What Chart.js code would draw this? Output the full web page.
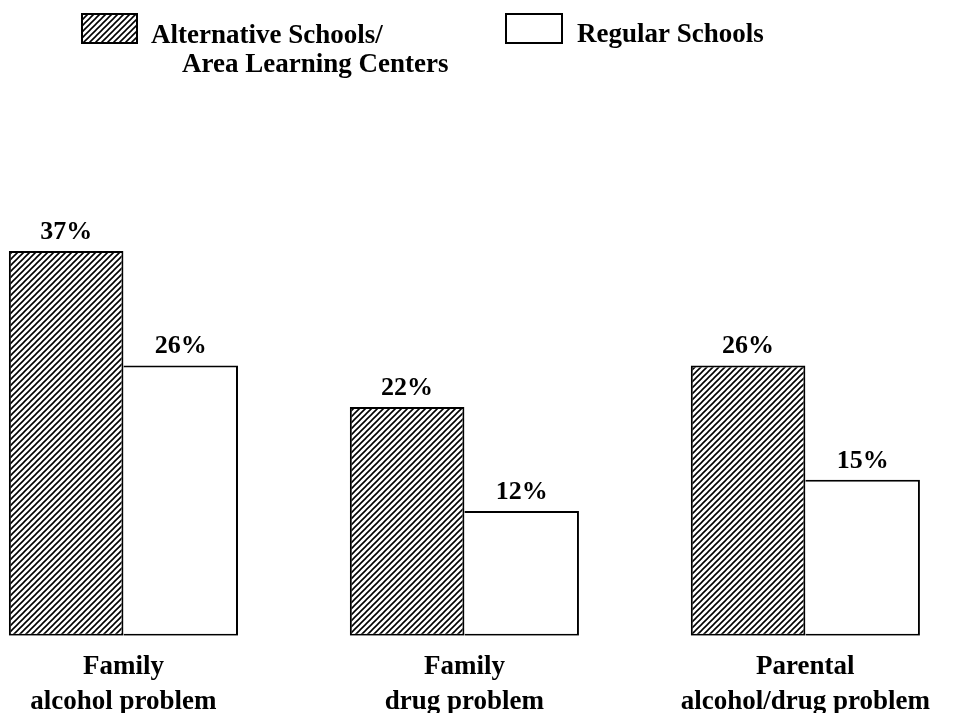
<!DOCTYPE html>
<html>
<head>
<meta charset="utf-8">
<script src="https://cdn.jsdelivr.net/npm/chart.js@4.4.1/dist/chart.umd.min.js"></script>
<style>
    html, body { margin: 0; padding: 0; background: #fff; overflow: hidden; }
    #wrap { width: 953px; height: 713px; }
</style>
</head>
<body>
<div id="wrap"><canvas id="schools"></canvas></div>
<script>
const categories = [['Family', 'alcohol problem'], ['Family', 'drug problem'], ['Parental', 'alcohol/drug problem']];
const alternative = [37, 22, 26];
const regular = [26, 12, 15];
const altLegend = ['Alternative Schools/', 'Area Learning Centers'];
const regLegend = ['Regular Schools'];

const serif = '"Liberation Serif", "Times New Roman", serif';

// diagonal hatch for the alternative schools bars
function hatch() {
    const s = 6;
    const c = document.createElement('canvas');
    c.width = s;
    c.height = s;
    const g = c.getContext('2d');
    g.fillStyle = '#fff';
    g.fillRect(0, 0, s, s);
    g.strokeStyle = '#000';
    g.lineWidth = 1.6;
    g.beginPath();
    g.moveTo(0, s); g.lineTo(s, 0);
    g.moveTo(-1, 1); g.lineTo(1, -1);
    g.moveTo(s - 1, s + 1); g.lineTo(s + 1, s - 1);
    g.stroke();
    return g.createPattern(c, 'repeat');
}
const hatchFill = hatch();

const valueLabels = {
    id: 'valueLabels',
    afterDatasetsDraw(chart) {
        const ctx = chart.ctx;
        ctx.save();
        ctx.font = 'bold 26px ' + serif;
        ctx.fillStyle = '#000';
        ctx.textAlign = 'center';
        ctx.textBaseline = 'alphabetic';
        chart.data.datasets.forEach((ds, d) => {
            chart.getDatasetMeta(d).data.forEach((bar, i) => {
                ctx.fillText(ds.data[i].y + '%', bar.x, bar.y - 12);
            });
        });
        ctx.restore();
    }
};

const boxLegend = {
    id: 'boxLegend',
    afterDraw(chart) {
        const ctx = chart.ctx;
        ctx.save();
        ctx.lineWidth = 2;
        ctx.strokeStyle = '#000';

        ctx.fillStyle = hatchFill;
        ctx.fillRect(82, 14, 55, 29);
        ctx.strokeRect(82, 14, 55, 29);
        ctx.fillStyle = '#fff';
        ctx.fillRect(506, 14, 56, 29);
        ctx.strokeRect(506, 14, 56, 29);

        ctx.fillStyle = '#000';
        ctx.font = 'bold 27px ' + serif;
        ctx.textBaseline = 'alphabetic';
        ctx.fillText(altLegend[0], 151, 43);
        ctx.fillText(altLegend[1], 182, 72);
        ctx.fillText(regLegend[0], 577, 42);
        ctx.restore();
    }
};

new Chart(document.getElementById('schools'), {
    type: 'bar',
    data: {
        datasets: [
            {
                label: altLegend.join(' '),
                data: alternative.map((v, i) => ({ x: i, y: v })),
                backgroundColor: hatchFill,
                borderColor: '#000',
                borderWidth: 2,
                borderSkipped: false,
                categoryPercentage: 0.672,
                barPercentage: 1
            },
            {
                label: regLegend[0],
                data: regular.map((v, i) => ({ x: i, y: v })),
                backgroundColor: '#fff',
                borderColor: '#000',
                borderWidth: { top: 2, right: 2, bottom: 2, left: 0 },
                borderSkipped: false,
                categoryPercentage: 0.672,
                barPercentage: 1
            }
        ]
    },
    options: {
        responsive: true,
        maintainAspectRatio: false,
        animation: false,
        layout: {
            padding: { top: 119, bottom: -21, left: 0, right: 0 }
        },
        scales: {
            x: {
                type: 'linear',
                offset: false,
                min: -0.362,
                max: 2.433,
                grid: { display: false, drawTicks: false },
                border: { display: false },
                afterBuildTicks: (axis) => {
                    axis.ticks = categories.map((c, i) => ({ value: i }));
                },
                ticks: {
                    autoSkip: false,
                    maxRotation: 0,
                    padding: 14,
                    color: '#000',
                    font: {
                        family: serif,
                        size: 27,
                        weight: 'bold',
                        lineHeight: 1.3
                    },
                    callback: (value) => categories[value]
                }
            },
            y: {
                display: false,
                min: 0,
                max: 49.7
            }
        },
        plugins: {
            legend: { display: false },
            tooltip: { enabled: false }
        }
    },
    plugins: [valueLabels, boxLegend]
});
</script>
</body>
</html>
